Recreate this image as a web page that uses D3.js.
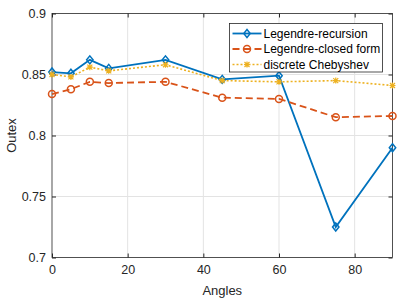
<!DOCTYPE html>
<html>
<head>
<meta charset="utf-8">
<script src="https://cdn.jsdelivr.net/npm/d3@7"></script>
<style>
body { margin: 0; background: #fff; }
svg { font-family: "Liberation Sans", Arial, sans-serif; }
.axis text { fill: #262626; font-size: 12.5px; }
.axis path, .axis line { stroke: #262626; }
</style>
</head>
<body>
<svg width="399" height="299"></svg>
<script>
var angles = [0, 5, 10, 15, 30, 45, 60, 75, 90];
var recursion = [0.852, 0.851, 0.862, 0.855, 0.862, 0.846, 0.849, 0.725, 0.790];
var closedForm = [0.834, 0.838, 0.844, 0.843, 0.844, 0.831, 0.830, 0.815, 0.816];
var chebyshev = [0.850, 0.848, 0.856, 0.853, 0.858, 0.845, 0.844, 0.845, 0.841];
var seriesNames = ["Legendre-recursion", "Legendre-closed form", "discrete Chebyshev"];
var xTicks = [0, 20, 40, 60, 80];
var yTicks = [0.7, 0.75, 0.8, 0.85, 0.9];

var svg = d3.select("svg");
var margin = {"top":13.5,"right":6.5,"bottom":41.5,"left":52};
var width = +svg.attr("width") - margin.left - margin.right;
var height = +svg.attr("height") - margin.top - margin.bottom;
var g = svg.append("g").attr("transform","translate("+margin.left+","+margin.top+")");

var x = d3.scaleLinear().domain([0,90]).range([0,width]);
var y = d3.scaleLinear().domain([0.7,0.9]).range([height,0]);

// grid
g.append("g").selectAll("line").data(xTicks.slice(1)).enter().append("line")
    .attr("x1",function(d){return x(d);}).attr("x2",function(d){return x(d);})
    .attr("y1",0).attr("y2",height)
    .attr("stroke","#e3e3e3").attr("stroke-width",1);
g.append("g").selectAll("line").data(yTicks.slice(1,-1)).enter().append("line")
    .attr("y1",function(d){return y(d);}).attr("y2",function(d){return y(d);})
    .attr("x1",0).attr("x2",width)
    .attr("stroke","#e3e3e3").attr("stroke-width",1);

// axes box
g.append("rect").attr("width",width).attr("height",height)
    .attr("fill","none").attr("stroke","#262626").attr("stroke-width",0.8);

g.append("g")
    .attr("class","axis")
    .attr("transform","translate(0,"+height+")")
    .call(d3.axisBottom(x).tickValues(xTicks).tickSizeInner(-4).tickSizeOuter(0).tickPadding(8).tickFormat(d3.format("d")))
    .call(function(a){a.select(".domain").remove();});

g.append("g")
    .attr("class","axis")
    .call(d3.axisLeft(y).tickValues(yTicks).tickSizeInner(-4).tickSizeOuter(0).tickPadding(6).tickFormat(function(d){return String(+d.toFixed(2));}))
    .call(function(a){a.select(".domain").remove();});

g.append("g").attr("class","axis").attr("transform","translate("+width+",0)")
    .call(d3.axisRight(y).tickValues(yTicks).tickSizeInner(-4).tickSizeOuter(0).tickFormat(""))
    .call(function(a){a.select(".domain").remove();});
g.append("g").attr("class","axis")
    .call(d3.axisTop(x).tickValues(xTicks).tickSizeInner(-4).tickSizeOuter(0).tickFormat(""))
    .call(function(a){a.select(".domain").remove();});

// labels
svg.append("text").attr("x",margin.left+width/2).attr("y",295)
    .attr("text-anchor","middle").attr("font-size","13px").attr("fill","#262626").text("Angles");
svg.append("text").attr("transform","translate(16,"+(margin.top+height/2)+") rotate(-90)")
    .attr("text-anchor","middle").attr("font-size","13px").attr("fill","#262626").text("Outex");

var colors = ["#0072BD","#D95319","#EDB120"];
var dashes = [null, "7,4", "2,2"];
var allSeries = [recursion, closedForm, chebyshev];

var line = d3.line().x(function(d){return x(d[0]);}).y(function(d){return y(d[1]);});

function drawMarker(sel, k, color) {
    if (k === 0) {
        sel.append("path").attr("d","M0,-4L3.2,0L0,4L-3.2,0Z")
            .attr("fill","none").attr("stroke",color).attr("stroke-width",1.5);
    } else if (k === 1) {
        sel.append("circle").attr("r",3.5)
            .attr("fill","none").attr("stroke",color).attr("stroke-width",1.5);
    } else {
        sel.append("path").attr("d","M-2.5,-2.5L2.5,2.5M-2.5,2.5L2.5,-2.5M0,-3L0,3M-3,0L3,0")
            .attr("stroke",color).attr("stroke-width",1.2);
    }
}

allSeries.forEach(function(vals, k){
    var data = angles.map(function(a,i){return [a, vals[i]];});
    g.append("path").datum(data)
        .attr("fill","none").attr("stroke",colors[k]).attr("stroke-width",k===2?1.6:1.8)
        .attr("stroke-dasharray",dashes[k])
        .attr("d",line);
    g.append("g").selectAll("g").data(data).enter().append("g")
        .attr("transform",function(d){return "translate("+x(d[0])+","+y(d[1])+")";})
        .each(function(){drawMarker(d3.select(this), k, colors[k]);});
});

// legend
var lg = svg.append("g").attr("transform","translate(229.5,23.5)");
lg.append("rect").attr("width",153).attr("height",48.5)
    .attr("fill","#fff").attr("stroke","#262626").attr("stroke-width",0.8);
seriesNames.forEach(function(name, k){
    var row = lg.append("g").attr("transform","translate(0,"+(10+k*15.5)+")");
    row.append("line").attr("x1",3).attr("x2",32).attr("y1",0).attr("y2",0)
        .attr("stroke",colors[k]).attr("stroke-width",k===2?1.6:1.8).attr("stroke-dasharray",dashes[k]);
    drawMarker(row.append("g").attr("transform","translate(17.5,0)"), k, colors[k]);
    row.append("text").attr("x",34).attr("y",4.3).attr("font-size","12px").attr("fill","#000").text(name);
});
</script>
</body>
</html>
